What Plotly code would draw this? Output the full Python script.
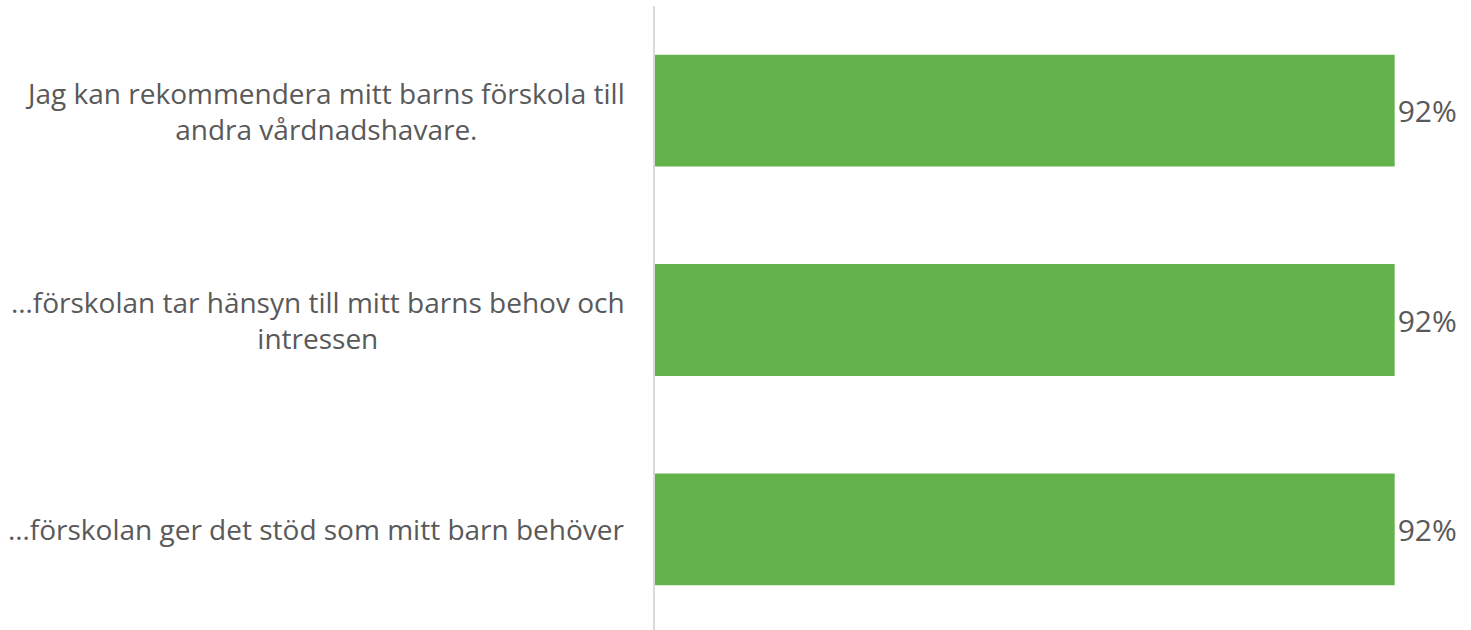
import plotly.graph_objects as go

categories = [
    "Jag kan rekommendera mitt barns förskola till<br>andra vårdnadshavare.",
    "…förskolan tar hänsyn till mitt barns behov och<br>intressen",
    "…förskolan ger det stöd som mitt barn behöver",
]
values = [0.92, 0.92, 0.92]

FONT = "Open Sans"
TXT = "#595959"

fig = go.Figure(
    go.Bar(
        y=categories,
        x=values,
        orientation="h",
        marker=dict(color="#63B34C", line=dict(width=0)),
        texttemplate="%{x:.0%}",
        textposition="outside",
        constraintext="none",
        textfont=dict(family=FONT, size=30, color=TXT),
        cliponaxis=False,
        hoverinfo="skip",
    )
)

for c in categories:
    fig.add_annotation(
        x=0, xref="paper", y=c, yref="y",
        text=c, showarrow=False, xanchor="right", yanchor="middle",
        align="center", xshift=-28,
        font=dict(family=FONT, size=28, color=TXT),
    )

fig.update_layout(
    width=1471, height=634,
    margin=dict(l=655, r=12, t=6, b=0),
    paper_bgcolor="white", plot_bgcolor="white",
    bargap=0.466,
    showlegend=False,
    xaxis=dict(range=[0, 1], visible=False, fixedrange=True),
    yaxis=dict(
        categoryorder="array", categoryarray=categories[::-1],
        showticklabels=False, showgrid=False, zeroline=False,
        showline=True, linecolor="#D9D9D9", linewidth=2, ticks="",
        fixedrange=True,
    ),
)

fig.write_html(
    "out.html",
    config={"displayModeBar": False},
    post_script="document.body.style.margin='0';document.body.style.overflow='hidden';document.documentElement.style.overflow='hidden';",
)
